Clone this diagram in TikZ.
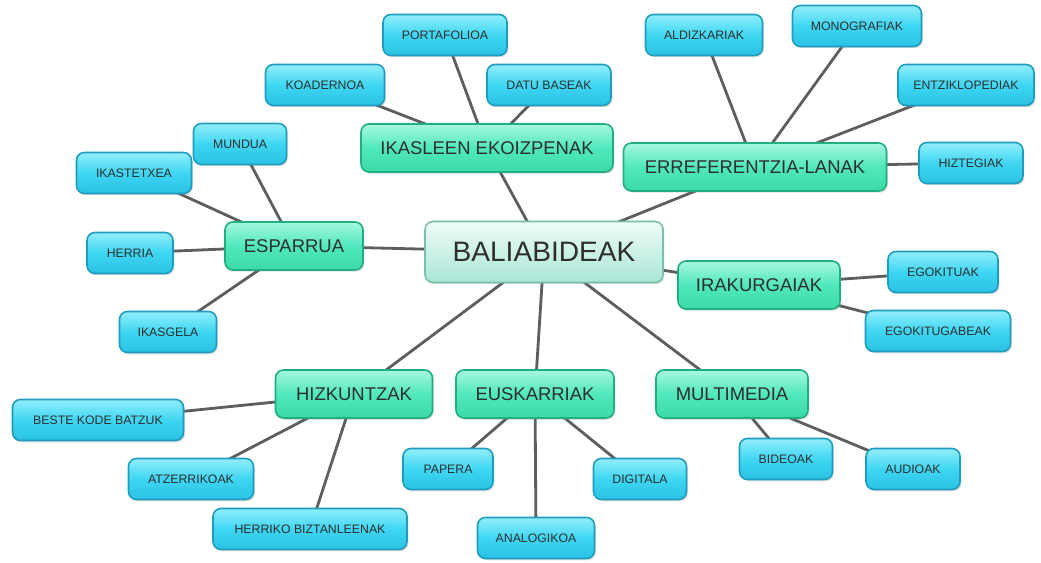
\documentclass[tikz,border=0pt]{standalone}
\usepackage{fontspec}
\setmainfont{Liberation Sans}
\usepackage{xcolor}
\usepackage{tikz}
\usetikzlibrary{backgrounds,shadows}

\definecolor{leafborder}{HTML}{1E9DBC}
\definecolor{leaftop}{HTML}{92EEFB}
\definecolor{leafmid}{HTML}{3ED6F2}
\definecolor{leafbot}{HTML}{2CC2E4}
\definecolor{topicborder}{HTML}{22AE84}
\definecolor{topictop}{HTML}{A6F8DE}
\definecolor{topicmid}{HTML}{50E8BC}
\definecolor{topicbot}{HTML}{3CDAA6}
\definecolor{rootborder}{HTML}{78BFAE}
\definecolor{roottop}{HTML}{F0FCF8}
\definecolor{rootbot}{HTML}{A9E6D6}
\definecolor{linkgray}{HTML}{5E5E5E}
\definecolor{labelgray}{HTML}{2E2E2E}

\tikzset{
    mapbox/.style={rectangle, rounded corners=4.5pt, draw, line width=0.9pt,
        text=labelgray, align=center, inner sep=2pt,
        drop shadow={opacity=0.25, shadow xshift=0.8pt, shadow yshift=-1pt}},
    root/.style={mapbox, draw=rootborder, top color=roottop, bottom color=rootbot,
        minimum width=4.76cm, minimum height=1.22cm, font=\fontsize{16}{18}\selectfont},
    topic/.style={mapbox, draw=topicborder, top color=topictop, bottom color=topicbot,
        middle color=topicmid, minimum height=0.96cm, font=\fontsize{10.5}{12}\selectfont},
    leaf/.style={mapbox, draw=leafborder, top color=leaftop, bottom color=leafbot,
        middle color=leafmid, minimum height=0.82cm, font=\fontsize{7}{8}\selectfont},
    link/.style={draw=linkgray, line width=1.6pt}
}

\begin{document}
\begin{tikzpicture}[x=0.02cm, y=-0.02cm]
    \useasboundingbox (0,0) rectangle (1041,563);

    % Central node
    \node[root] (baliabideak) at (544,252) {BALIABIDEAK};

    % Main topics
    \node[topic, minimum width=5.04cm] (ikasleen) at (487,148) {IKASLEEN EKOIZPENAK};
    \node[topic, minimum width=5.26cm] (erref) at (755,167) {ERREFERENTZIA-LANAK};
    \node[topic, minimum width=2.76cm] (esparrua) at (294,246) {ESPARRUA};
    \node[topic, minimum width=3.24cm] (irakurgaiak) at (759,285) {IRAKURGAIAK};
    \node[topic, minimum width=3.14cm] (hizkuntzak) at (354,394) {HIZKUNTZAK};
    \node[topic, minimum width=3.16cm] (euskarriak) at (535,394) {EUSKARRIAK};
    \node[topic, minimum width=3.04cm] (multimedia) at (732,394) {MULTIMEDIA};

    % Leaves
    \foreach \name/\x/\y/\w/\txt in {
        portafolioa/445/35/2.48/PORTAFOLIOA,
        koadernoa/325/85/2.38/KOADERNOA,
        datubaseak/549/85/2.48/DATU BASEAK,
        aldizkariak/704/35/2.34/ALDIZKARIAK,
        monografiak/857/26/2.58/MONOGRAFIAK,
        entziklopediak/966/85/2.72/ENTZIKLOPEDIAK,
        hiztegiak/971/163/2.08/HIZTEGIAK,
        mundua/240/144/1.86/MUNDUA,
        ikastetxea/134/173/2.30/IKASTETXEA,
        herria/130/253/1.72/HERRIA,
        ikasgela/168/332/1.94/IKASGELA,
        egokituak/943/272/2.20/EGOKITUAK,
        egokitugabeak/938/331/2.90/EGOKITUGABEAK,
        beste/98/420/3.42/BESTE KODE BATZUK,
        atzerrikoak/191/479/2.50/ATZERRIKOAK,
        herriko/310/529/3.88/HERRIKO BIZTANLEENAK,
        papera/448/469/1.80/PAPERA,
        analogikoa/536/538/2.34/ANALOGIKOA,
        digitala/640/479/1.86/DIGITALA,
        bideoak/786/459/1.86/BIDEOAK,
        audioak/913/469/1.88/AUDIOAK}
        \node[leaf, minimum width=\w cm] (\name) at (\x,\y) {\txt};

    % Connectors
    \begin{scope}[on background layer]
        \foreach \a/\b in {
            baliabideak/ikasleen, baliabideak/erref, baliabideak/esparrua,
            baliabideak/irakurgaiak, baliabideak/hizkuntzak,
            baliabideak/euskarriak, baliabideak/multimedia,
            ikasleen/portafolioa, ikasleen/koadernoa, ikasleen/datubaseak,
            erref/aldizkariak, erref/monografiak, erref/entziklopediak, erref/hiztegiak,
            esparrua/mundua, esparrua/ikastetxea, esparrua/herria, esparrua/ikasgela,
            irakurgaiak/egokituak, irakurgaiak/egokitugabeak,
            hizkuntzak/beste, hizkuntzak/atzerrikoak, hizkuntzak/herriko,
            euskarriak/papera, euskarriak/analogikoa, euskarriak/digitala,
            multimedia/bideoak, multimedia/audioak}
            \draw[link] (\a.center) -- (\b.center);
    \end{scope}
\end{tikzpicture}
\end{document}
